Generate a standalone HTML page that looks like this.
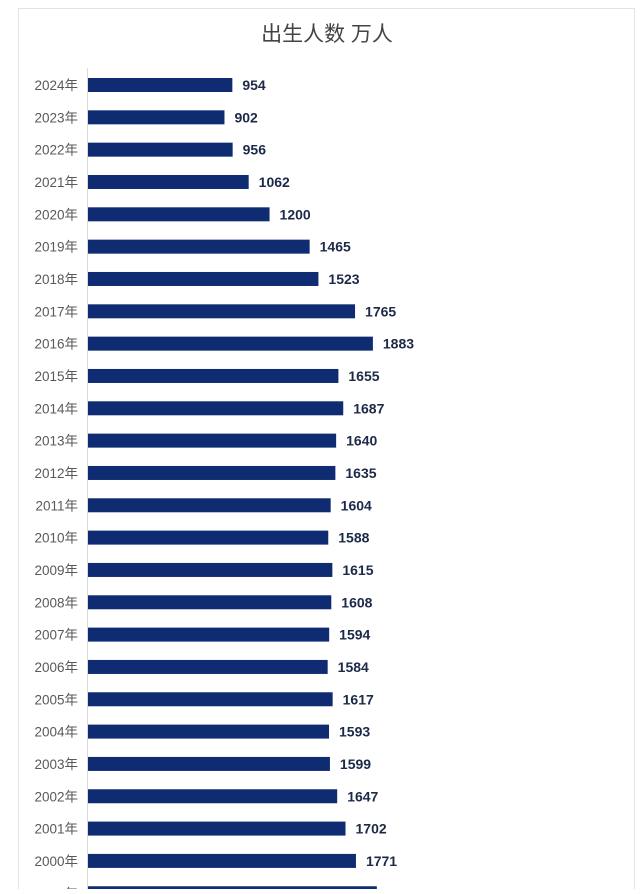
<!DOCTYPE html>
<html><head><meta charset="utf-8"><style>
body{margin:0;background:#fff;width:640px;height:889px;overflow:hidden;font-family:"Liberation Sans","Noto Sans CJK SC",sans-serif}
</style></head><body>
<svg id="chart" width="640" height="889">
<rect x="18.5" y="8.5" width="616" height="900" fill="#fff" stroke="#e3e3e3"/>
<text x="327" y="41" text-anchor="middle" font-size="21" fill="#444" font-family="'Liberation Sans','Noto Sans CJK SC',sans-serif">出生人数 万人</text>
<line x1="87.5" y1="68" x2="87.5" y2="889" stroke="#d9d9d9"/>
<g id="bars"></g>
</svg>
<script>
const years=["2024年","2023年","2022年","2021年","2020年","2019年","2018年","2017年","2016年","2015年","2014年","2013年","2012年","2011年","2010年","2009年","2008年","2007年","2006年","2005年","2004年","2003年","2002年","2001年","2000年","1999年"];
const births=[954,902,956,1062,1200,1465,1523,1765,1883,1655,1687,1640,1635,1604,1588,1615,1608,1594,1584,1617,1593,1599,1647,1702,1771,1909];
const x0=88, kx=0.1513, y0=85, step=32.33, bh=14;
const xs=v=>x0+v*kx, ys=i=>y0+i*step;
const g=document.getElementById('bars');
const NS='http://www.w3.org/2000/svg';
years.forEach((y,i)=>{
  const cy=ys(i);
  const t=document.createElementNS(NS,'text');
  
  
  t.setAttribute('x',78);t.setAttribute('y',cy+5);t.setAttribute('text-anchor','end');
  t.setAttribute('font-size','13.5');t.setAttribute('fill','#595959');
  t.textContent=y;g.appendChild(t);
  const r=document.createElementNS(NS,'rect');
  
  
  r.setAttribute('x',x0);r.setAttribute('y',cy-bh/2);r.setAttribute('width',xs(births[i])-x0);r.setAttribute('height',bh);
  r.setAttribute('fill','#0f2b72');
  g.appendChild(r);
  const v=document.createElementNS(NS,'text');
  
  
  v.setAttribute('x',xs(births[i])+10);v.setAttribute('y',cy+5);
  v.setAttribute('font-size','14');v.setAttribute('font-weight','bold');v.setAttribute('fill','#1c2a48');
  v.textContent=births[i];g.appendChild(v);
});
</script>
</body></html>
